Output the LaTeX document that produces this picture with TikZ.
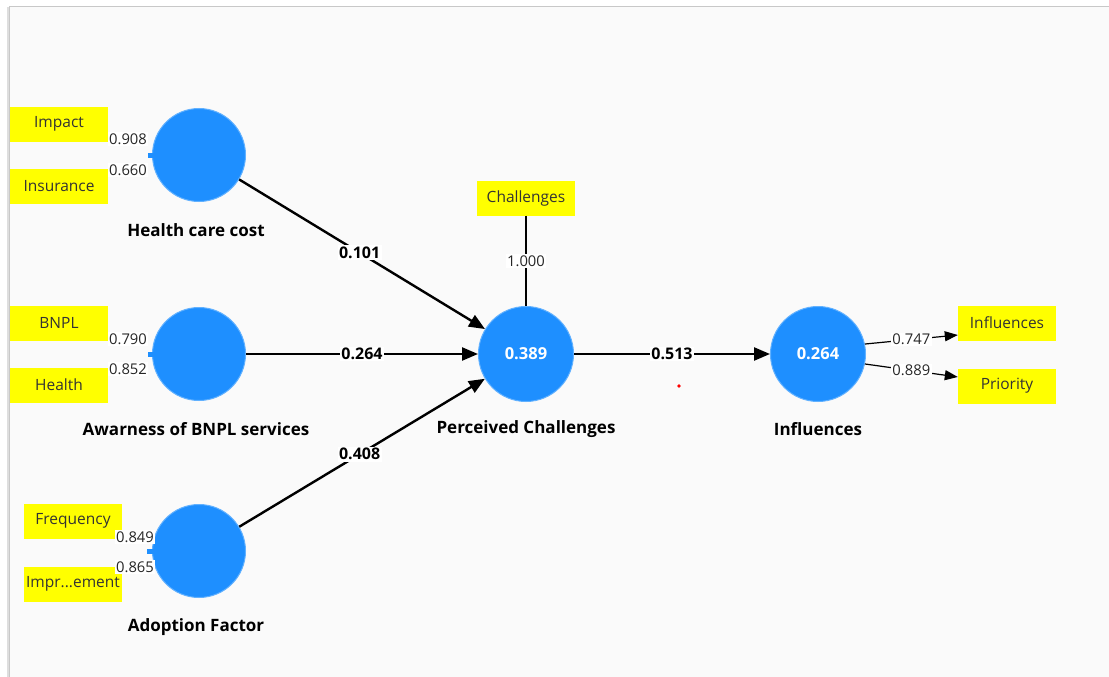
\documentclass[tikz,border=0pt]{standalone}
\usepackage{fontspec}
\setmainfont{Open Sans}[BoldFont={* Bold}]
\usetikzlibrary{arrows.meta}
\definecolor{bg}{HTML}{FAFAFA}
\definecolor{frame}{HTML}{C8C8C8}
\definecolor{lv}{HTML}{1E8FFF}
\definecolor{ind}{HTML}{FFFF00}
\tikzset{
  x=1pt,y=-1pt,
  latent/.style={circle,fill=lv,draw=lv!70!white,line width=1pt,minimum size=93pt,inner sep=0pt,text=white,font=\fontsize{16.5}{19}\selectfont\bfseries},
  indbox/.style={fill=ind,minimum width=98pt,minimum height=35pt,inner sep=0pt,font=\fontsize{15.5}{18}\selectfont,text=black!80},
  lvname/.style={font=\fontsize{17}{20}\selectfont\bfseries},
  loadlbl/.style={fill=white,inner sep=1.5pt,font=\fontsize{14.8}{17}\selectfont,text=black!85},
  pathlbl/.style={fill=white,inner sep=1.5pt,font=\fontsize{16}{19}\selectfont\bfseries},
  spath/.style={line width=2.4pt,-{Triangle[length=16pt,width=13pt]}},
  opath/.style={line width=1.2pt,-{Triangle[length=13pt,width=10pt]}},
}
\begin{document}
\begin{tikzpicture}
\useasboundingbox (0,0) rectangle (1109,677);
\fill[bg] (9,7) rectangle (1109,677);
\draw[frame,line width=1pt] (9,677) -- (9,7) -- (1109,7);
\draw[frame!60!white,line width=2pt] (8,677) -- (8,7);

% latent variables
\node[latent] (hcc) at (199,155) {};
\node[latent] (awa) at (199,354) {};
\node[latent] (adf) at (199,551) {};
\node[latent,minimum size=95pt] (pc) at (526,354) {0.389};
\node[latent,minimum size=95pt] (inf) at (818,354) {0.264};

\node[lvname] (hccn) at (196,230) {Health care cost};
\node[lvname] (awan) at (196,429) {Awarness of BNPL services};
\node[lvname] (adfn) at (196,627) {Adoption Factor};
\node[lvname] (pcn) at (526,429) {Perceived Challenges};
\node[lvname] (infn) at (818,429) {Influences};

% indicators
\node[indbox] (imp) at (59,124) {Impact};
\node[indbox] (ins) at (59,186) {Insurance};
\node[indbox] (bnpl) at (59,323) {BNPL};
\node[indbox] (hea) at (59,385) {Health};
\node[indbox] (fre) at (73,521) {Frequency};
\node[indbox] (imr) at (73,584) {Impr...ement};
\node[indbox] (cha) at (526,198) {Challenges};
\node[indbox] (infl) at (1007,323) {Influences};
\node[indbox] (pri) at (1007,386) {Priority};

% small stubs on the left of the formative constructs
\fill[lv] (148,153) rectangle (154,158);
\fill[lv] (148,352) rectangle (154,357);
\fill[lv] (147,549) rectangle (155,554);

% loadings
\node[loadlbl] (l1) at (128,139) {0.908};
\node[loadlbl] (l2) at (128,170) {0.660};
\node[loadlbl] (l3) at (128,339) {0.790};
\node[loadlbl] (l4) at (128,369) {0.852};
\node[loadlbl] (l5) at (135,537) {0.849};
\node[loadlbl] (l6) at (135,567) {0.865};

% Challenges loading
\draw[line width=1.2pt] (cha.south) -- node[loadlbl,pos=0.5] {1.000} (pc.north);

% structural paths
\draw[spath] (hcc) -- node[pathlbl,pos=0.49] {0.101} (pc);
\draw[spath] (awa) -- node[pathlbl,pos=0.5] {0.264} (pc);
\draw[spath] (adf) -- node[pathlbl,pos=0.49] {0.408} (pc);
\draw[spath] (pc) -- node[pathlbl,pos=0.5] {0.513} (inf);

% reflective outer paths
\draw[opath] (inf.12) -- node[loadlbl,pos=0.5] {0.747} (infl.west |- 0,335);
\draw[opath] (inf.-12) -- node[loadlbl,pos=0.5] {0.889} (pri.west |- 0,377);

% red dot
\fill[red] (679,386) circle (1.8pt);
\end{tikzpicture}
\end{document}
